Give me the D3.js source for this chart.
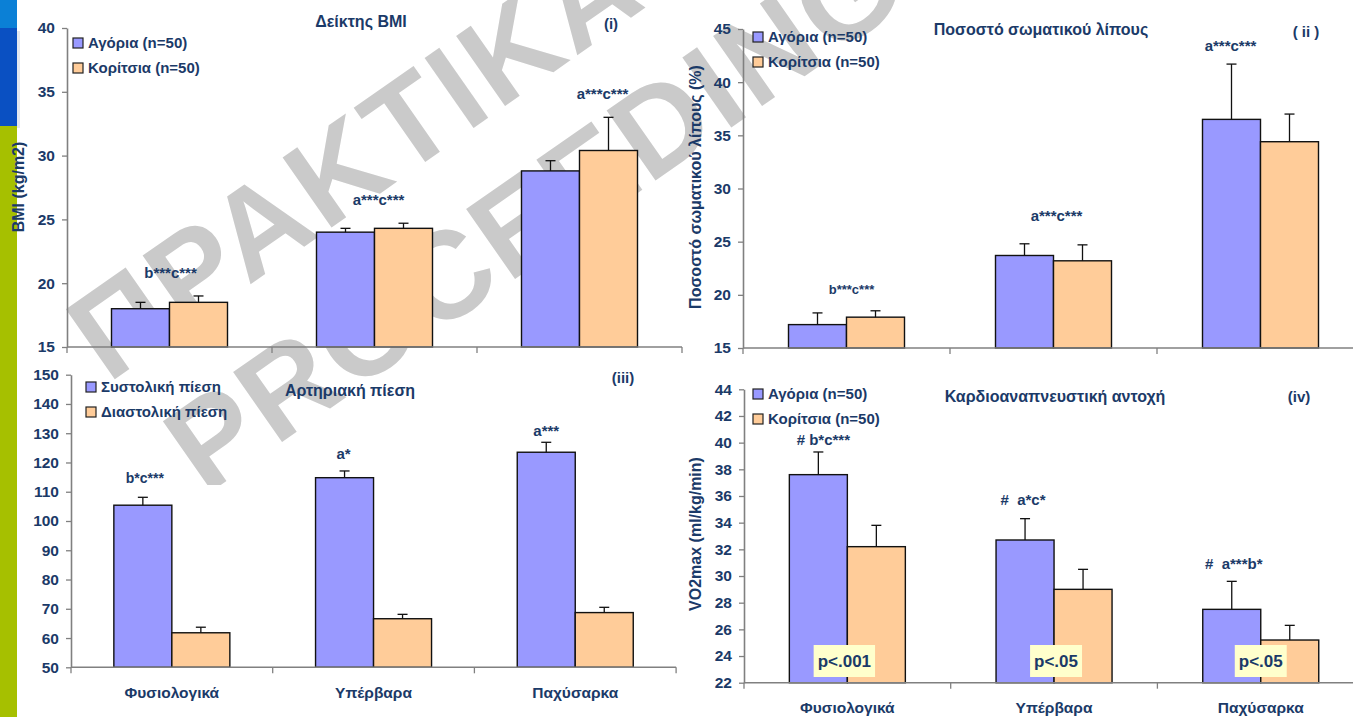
<!DOCTYPE html>
<html>
<head>
<meta charset="utf-8">
<script src="https://cdn.jsdelivr.net/npm/d3@7"></script>
<style>
  body { margin: 0; background: #fff; }
  svg { display: block; }
  text { font-family: "Liberation Sans", Arial, sans-serif; font-weight: bold; }
</style>
</head>
<body>
<svg id="chart" width="1353" height="717"></svg>
<script>
// categories (weight groups)
const categories = ["Φυσιολογικά", "Υπέρβαρα", "Παχύσαρκα"];

// (i) BMI
const bmiBoys = [18.0, 24.0, 28.8];
const bmiBoysSd = [0.5, 0.3, 0.8];
const bmiGirls = [18.5, 24.3, 30.4];
const bmiGirlsSd = [0.5, 0.4, 2.6];
const bmiNotes = ["b***c***", "a***c***", "a***c***"];

// (ii) body fat %
const fatBoys = [17.2, 23.7, 36.5];
const fatBoysSd = [1.1, 1.1, 5.2];
const fatGirls = [17.9, 23.2, 34.4];
const fatGirlsSd = [0.6, 1.5, 2.6];
const fatNotes = ["b***c***", "a***c***", "a***c***"];

// (iii) blood pressure
const systolic = [105.4, 114.8, 123.5];
const systolicSd = [2.7, 2.3, 3.4];
const diastolic = [61.8, 66.6, 68.7];
const diastolicSd = [1.9, 1.5, 1.8];
const bpNotes = ["b*c***", "a*", "a***"];

// (iv) VO2max
const vo2Boys = [37.6, 32.7, 27.5];
const vo2BoysSd = [1.7, 1.6, 2.1];
const vo2Girls = [32.2, 29.0, 25.2];
const vo2GirlsSd = [1.6, 1.5, 1.1];
const vo2Notes = ["# b*c***", "#  a*c*", "#  a***b*"];
const vo2PValues = ["p<.001", "p<.05", "p<.05"];

const boysLabel = "Αγόρια (n=50)";
const girlsLabel = "Κορίτσια (n=50)";

const navy = "#1b3a68";
const blue = "#9999ff";
const peach = "#ffcc99";
const axisGrey = "#808080";

const svg = d3.select("#chart");
svg.append("rect").attr("width", 1353).attr("height", 717).attr("fill", "#fff");

// side strip
svg.append("rect").attr("x", 0).attr("y", 0).attr("width", 17).attr("height", 28).attr("fill", "#0b80d6");
svg.append("rect").attr("x", 17).attr("y", 31).attr("width", 3).attr("height", 97).attr("fill", "#e4e8f0");
svg.append("rect").attr("x", 0).attr("y", 28).attr("width", 17).attr("height", 100).attr("fill", "#0a50c2");
svg.append("rect").attr("x", 0).attr("y", 126).attr("width", 17).attr("height", 591).attr("fill", "#a6c000");

// watermark
const defs = svg.append("defs");
defs.append("clipPath").attr("id", "wmclip")
  .append("path").attr("d", "M0,0H1353V717H690V485H0Z");
defs.append("clipPath").attr("id", "bpclip")
  .append("rect").attr("x", 0).attr("y", 423).attr("width", 60).attr("height", 300);

const wm = svg.append("g").attr("clip-path", "url(#wmclip)");
wm.append("text")
  .attr("transform", "translate(108,384) rotate(-35)")
  .attr("fill", "#cacaca")
  .style("font-size", "124px")
  .style("letter-spacing", "4px")
  .text("ΠΡΑΚΤΙΚΑ");
wm.append("text")
  .attr("transform", "translate(205,496) rotate(-35)")
  .attr("fill", "#cacaca")
  .style("font-size", "124px")
  .style("letter-spacing", "3px")
  .text("PROCEEDINGS");

const panels = [
  {
    left: 67, band: 205, top: 28, bottom: 347, domain: [15, 40], step: 5,
    series: [[bmiBoys, bmiBoysSd], [bmiGirls, bmiGirlsSd]],
    legend: [boysLabel, girlsLabel], legendX: 73, legendY: 43,
    title: "Δείκτης BMI", titleX: 361, titleY: 27, tag: "(i)", tagX: 611, tagY: 29,
    yLabel: "BMI (kg/m2)", yLabelX: 19, yLabelY: 187,
    notes: bmiNotes, noteDx: [1, 4, 23], noteY: [20.4, 26.1, 34.4], noteSize: [15, 15, 15],
    xLabels: false
  },
  {
    left: 743, band: 207, top: 29, bottom: 348, domain: [15, 45], step: 5,
    series: [[fatBoys, fatBoysSd], [fatGirls, fatGirlsSd]],
    legend: [boysLabel, girlsLabel], legendX: 753, legendY: 37,
    title: "Ποσοστό σωματικού λίπους", titleX: 1041, titleY: 35, tag: "( ii )", tagX: 1306, tagY: 37,
    yLabel: "Ποσοστό σωματικού λίπους (%)", yLabelX: 696, yLabelY: 187,
    notes: fatNotes, noteDx: [5, 3, -30], noteY: [20.1, 26.9, 42.9], noteSize: [13, 15, 15],
    xLabels: false
  },
  {
    left: 71, band: 201.7, top: 374.7, bottom: 667.3, domain: [50, 150], step: 10,
    series: [[systolic, systolicSd], [diastolic, diastolicSd]],
    legend: ["Συστολική πίεση", "Διαστολική πίεση"], legendX: 86, legendY: 387,
    title: "Αρτηριακή πίεση", titleX: 350, titleY: 396, tag: "(iii)", tagX: 623, tagY: 383,
    yLabel: "Αρτηριακή πίεση  (mmHg)", yLabelX: 15, yLabelY: 514, yLabelClip: true,
    notes: bpNotes, noteDx: [-27, -30, -29], noteY: [113.0, 121.2, 129.0], noteSize: [14, 15, 15],
    xLabels: true, xLabelY: 698
  },
  {
    left: 744, band: 206.7, top: 389.3, bottom: 682.7, domain: [22, 44], step: 2,
    series: [[vo2Boys, vo2BoysSd], [vo2Girls, vo2GirlsSd]],
    legend: [boysLabel, girlsLabel], legendX: 753, legendY: 394,
    title: "Καρδιοαναπνευστική αντοχή", titleX: 1055, titleY: 402, tag: "(iv)", tagX: 1299, tagY: 402,
    yLabel: "VO2max (ml/kg/min)", yLabelX: 696, yLabelY: 534,
    notes: vo2Notes, noteDx: [-24, -31, -27], noteY: [39.8, 35.3, 30.5], noteSize: [15, 15, 15],
    pValues: vo2PValues, pDx: [-3, 2, 0],
    xLabels: true, xLabelY: 713
  }
];

const colors = [blue, peach];

const drawPanel = (p) => {
  const g = svg.append("g");
  const x = d3.scaleBand().domain(categories).range([p.left, p.left + 3 * p.band]);
  const y = d3.scaleLinear().domain(p.domain).range([p.bottom, p.top]);
  const barW = 58;
  const sub = d3.scaleBand().domain([0, 1]).range([-barW, barW]);
  const cx = c => x(c) + x.bandwidth() / 2;

  // y axis
  const yAxis = d3.axisLeft(y)
    .tickValues(d3.range(p.domain[0], p.domain[1] + 0.001, p.step))
    .tickSize(5).tickSizeOuter(0).tickPadding(7);
  const ya = g.append("g").attr("transform", `translate(${p.left},0)`).call(yAxis);
  ya.select(".domain").attr("stroke", axisGrey).attr("stroke-width", 1.6);
  ya.selectAll(".tick line").attr("stroke", axisGrey).attr("stroke-width", 1.3);
  ya.selectAll(".tick text")
    .attr("fill", navy)
    .style("font-size", "15.5px")
    .style("font-family", "'Liberation Sans', Arial, sans-serif");

  // bars
  p.series.forEach(([vals, sds], k) => {
    g.append("g").selectAll("rect")
      .data(categories)
      .join("rect")
      .attr("x", c => cx(c) + sub(k))
      .attr("y", (c, i) => y(vals[i]))
      .attr("width", sub.bandwidth())
      .attr("height", (c, i) => p.bottom - y(vals[i]))
      .attr("fill", colors[k])
      .attr("stroke", "#111")
      .attr("stroke-width", 1.4);

    const err = g.append("g").attr("stroke", "#111").attr("stroke-width", 1.3);
    err.selectAll(".stem")
      .data(categories)
      .join("line")
      .attr("class", "stem")
      .attr("x1", c => cx(c) + sub(k) + barW / 2)
      .attr("x2", c => cx(c) + sub(k) + barW / 2)
      .attr("y1", (c, i) => y(vals[i]))
      .attr("y2", (c, i) => y(vals[i] + sds[i]));
    err.selectAll(".cap")
      .data(categories)
      .join("line")
      .attr("class", "cap")
      .attr("x1", c => cx(c) + sub(k) + barW / 2 - 5)
      .attr("x2", c => cx(c) + sub(k) + barW / 2 + 5)
      .attr("y1", (c, i) => y(vals[i] + sds[i]))
      .attr("y2", (c, i) => y(vals[i] + sds[i]));
  });

  // x axis
  const right = p.left + 3 * p.band;
  g.append("line")
    .attr("x1", p.left).attr("x2", right)
    .attr("y1", p.bottom).attr("y2", p.bottom)
    .attr("stroke", axisGrey).attr("stroke-width", 1.6);
  g.selectAll(".xtick")
    .data([...categories.map(c => x(c)), right])
    .join("line")
    .attr("class", "xtick")
    .attr("x1", d => d).attr("x2", d => d)
    .attr("y1", p.bottom).attr("y2", p.bottom + 6)
    .attr("stroke", axisGrey).attr("stroke-width", 1.3);

  if (p.xLabels) {
    g.selectAll(".xlab")
      .data(categories)
      .join("text")
      .attr("class", "xlab")
      .attr("x", c => cx(c))
      .attr("y", p.xLabelY)
      .attr("text-anchor", "middle")
      .attr("fill", navy)
      .style("font-size", "15.5px")
      .text(c => c);
  }

  // significance notes
  g.selectAll(".note")
    .data(p.notes)
    .join("text")
    .attr("class", "note")
    .attr("x", (d, i) => cx(categories[i]) + p.noteDx[i])
    .attr("y", (d, i) => y(p.noteY[i]))
    .attr("text-anchor", "middle")
    .attr("fill", navy)
    .style("font-size", (d, i) => p.noteSize[i] + "px")
    .style("white-space", "pre")
    .text(d => d);

  // p-value boxes
  if (p.pValues) {
    p.pValues.forEach((t, i) => {
      const bx = cx(categories[i]) + p.pDx[i];
      const txt = g.append("text")
        .attr("x", bx).attr("y", 667)
        .attr("text-anchor", "middle")
        .attr("fill", navy)
        .style("font-size", "17px")
        .text(t);
      const bb = txt.node().getBBox();
      g.insert("rect", () => txt.node())
        .attr("x", bb.x - 4).attr("y", 645)
        .attr("width", bb.width + 8).attr("height", 32)
        .attr("fill", "#ffffcc");
    });
  }

  // legend
  p.legend.forEach((label, k) => {
    const ly = p.legendY + k * 25;
    g.append("rect")
      .attr("x", p.legendX).attr("y", ly - 5)
      .attr("width", 10).attr("height", 10)
      .attr("fill", colors[k])
      .attr("stroke", "#222").attr("stroke-width", 1.2);
    g.append("text")
      .attr("x", p.legendX + 15).attr("y", ly + 5)
      .attr("fill", navy)
      .style("font-size", "15px")
      .text(label);
  });

  // titles
  g.append("text")
    .attr("x", p.titleX).attr("y", p.titleY)
    .attr("text-anchor", "middle")
    .attr("fill", navy)
    .style("font-size", "16px")
    .text(p.title);
  g.append("text")
    .attr("x", p.tagX).attr("y", p.tagY)
    .attr("text-anchor", "middle")
    .attr("fill", navy)
    .style("font-size", "15px")
    .style("white-space", "pre")
    .text(p.tag);

  const yl = g.append("text")
    .attr("transform", `translate(${p.yLabelX + 5},${p.yLabelY}) rotate(-90)`)
    .attr("text-anchor", "middle")
    .attr("fill", navy)
    .style("font-size", "16px")
    .style("white-space", "pre")
    .text(p.yLabel);
  if (p.yLabelClip) yl.attr("clip-path", "url(#bpclip)");
};

panels.forEach(drawPanel);
</script>
</body>
</html>
